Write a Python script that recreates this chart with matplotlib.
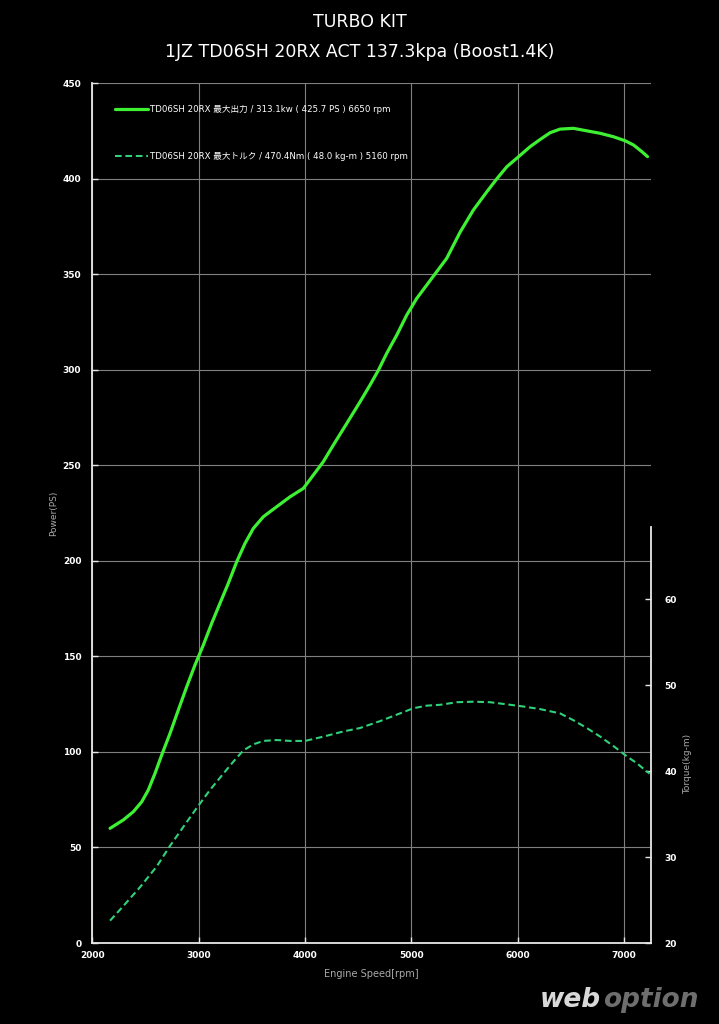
import matplotlib
matplotlib.use("Agg")
import matplotlib.pyplot as plt

# ---- data ----
power_rpm = [2166, 2291, 2385, 2464, 2526, 2589, 2652, 2730, 2808, 2887, 2965, 3043,
             3122, 3200, 3278, 3357, 3435, 3514, 3608, 3733, 3859, 3984, 4078, 4172,
             4266, 4392, 4517, 4611, 4690, 4768, 4862, 4956, 5050, 5144, 5238, 5332,
             5458, 5583, 5709, 5803, 5897, 6006, 6116, 6211, 6304, 6398, 6524, 6649,
             6775, 6900, 7010, 7088, 7167, 7220]
power_ps = [60.0, 64.4, 68.7, 73.9, 80.1, 88.8, 98.4, 109.7, 121.9, 134.1, 145.5, 155.9,
            167.3, 177.8, 188.2, 199.5, 209.1, 217.0, 223.1, 228.3, 233.5, 237.9, 244.9, 251.9,
            260.6, 271.9, 283.2, 292.0, 299.8, 308.6, 318.1, 328.6, 337.3, 344.3, 351.3, 358.3,
            372.0, 383.6, 393.1, 399.9, 406.2, 411.4, 416.7, 420.5, 424.0, 425.9, 426.3, 425.0,
            423.7, 421.9, 419.8, 417.6, 414.1, 411.5]

torque_rpm = [2166, 2291, 2448, 2605, 2730, 2855, 2981, 3106, 3232, 3326, 3420, 3514,
              3608, 3733, 3859, 4000, 4172, 4360, 4517, 4705, 4893, 5019, 5144, 5270,
              5427, 5583, 5740, 5897, 6053, 6210, 6398, 6524, 6649, 6775, 6900, 7026,
              7120, 7198, 7240]
torque_kgm = [22.6, 24.3, 26.5, 28.9, 31.3, 33.5, 35.7, 37.8, 39.7, 41.1, 42.4, 43.1,
              43.5, 43.6, 43.5, 43.5, 44.0, 44.6, 45.0, 45.8, 46.7, 47.3, 47.6, 47.7,
              48.0, 48.06, 48.0, 47.75, 47.5, 47.2, 46.7, 45.9, 45.0, 44.0, 42.9, 41.7,
              40.9, 40.1, 39.7]

x_ticks = [2000, 3000, 4000, 5000, 6000, 7000]
power_ticks = [0, 50, 100, 150, 200, 250, 300, 350, 400, 450]
torque_ticks = [20, 30, 40, 50, 60]

title1 = "TURBO KIT"
title2 = "1JZ TD06SH 20RX ACT 137.3kpa (Boost1.4K)"
label_power = "TD06SH 20RX 最大出力 / 313.1kw ( 425.7 PS ) 6650 rpm"
label_torque = "TD06SH 20RX 最大トルク / 470.4Nm ( 48.0 kg-m ) 5160 rpm"

FAM = ['DejaVu Sans', 'Noto Sans CJK JP']
plt.rcParams['font.family'] = FAM

POWER_C = '#3ef032'
TORQUE_C = '#2fd27a'
GRID_C = '#808080'

fig = plt.figure(figsize=(7.19, 10.24), dpi=100, facecolor='black')
ax = fig.add_axes([0.1285, 0.0791, 0.905 - 0.1285, 0.9189 - 0.0791])
ax.set_facecolor('black')

ax.set_xlim(2000, 7250)
ax.set_ylim(0, 450)
ax.set_xticks(x_ticks)
ax.set_yticks(power_ticks)
ax.grid(True, color=GRID_C, linewidth=0.8)
ax.set_axisbelow(True)
for s in ['top', 'right']:
    ax.spines[s].set_visible(False)
for s in ['left', 'bottom']:
    ax.spines[s].set_color('#e8e8e8')
    ax.spines[s].set_linewidth(1.3)
ax.tick_params(colors='#e8e8e8', direction='in', length=4, width=1,
               labelsize=6.5, labelcolor='white')
ax.tick_params(axis='x', pad=6)
ax.tick_params(axis='y', pad=8)
for lab in ax.get_xticklabels() + ax.get_yticklabels():
    lab.set_fontweight('bold')

lp, = ax.plot(power_rpm, power_ps, color=POWER_C, linewidth=2.3,
              solid_capstyle='round', solid_joinstyle='round')

ax2 = ax.twinx()
ax2.set_ylim(20, 120)
ax2.set_yticks(torque_ticks)
for s in ['top', 'left', 'bottom']:
    ax2.spines[s].set_visible(False)
ax2.spines['right'].set_bounds(20, 68.4)
ax2.spines['right'].set_color('#e8e8e8')
ax2.spines['right'].set_linewidth(1.3)
ax2.tick_params(colors='#e8e8e8', direction='in', length=4, width=1,
                labelsize=6.5, labelcolor='white', pad=10)
for lab in ax2.get_yticklabels():
    lab.set_fontweight('bold')

lt, = ax2.plot(torque_rpm, torque_kgm, color=TORQUE_C, linewidth=1.5,
               linestyle=(0, (3.2, 1.8)))

leg = ax.legend([lp, lt], [label_power, label_torque], loc='upper left',
                frameon=False, fontsize=6.2, labelcolor='white',
                handlelength=3.8, handletextpad=0.25, labelspacing=4.5,
                bbox_to_anchor=(0.034, 0.979), borderaxespad=0)

ax.set_ylabel("Power(PS)", color='#aaaaaa', fontsize=6.5)
ax.yaxis.set_label_coords(-0.062, 0.5)
ax.set_xlabel("Engine Speed[rpm]", color='#aaaaaa', fontsize=7, labelpad=6)
fig.text(688 / 719, 1 - 764 / 1024, "Torque(kg-m)", color='#aaaaaa', fontsize=6.5,
         rotation=90, ha='center', va='center')

fig.text(0.5, 1 - 22 / 1024, title1, color='white', fontsize=12.5, ha='center', va='center')
fig.text(0.5, 1 - 52 / 1024, title2, color='white', fontsize=12.5, ha='center', va='center')

# watermark
fig.text(540 / 719, 1 - 1000 / 1024, "web", color='#d8d8d8', fontsize=19,
         fontweight='heavy', fontstyle='italic', ha='left', va='center')
fig.text(603 / 719, 1 - 1000 / 1024, "option", color='#6e6e6e', fontsize=19,
         fontweight='heavy', fontstyle='italic', ha='left', va='center')

fig.savefig("out.png", dpi=100, facecolor='black')
